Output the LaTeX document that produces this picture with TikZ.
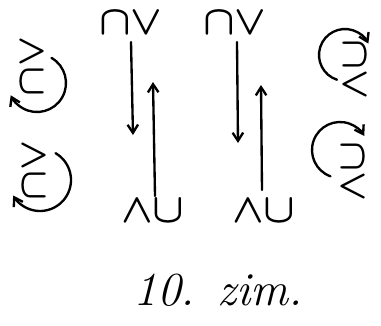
\documentclass[tikz,border=0pt]{standalone}
\usepackage{amsmath}
\usepackage{tikz}
\usetikzlibrary{arrows.meta, positioning}
\tikzset{
  sym/.style   = {inner sep=0pt, font=\huge\boldmath, scale=1.7, transform shape},
  symccw/.style= {sym, rotate=90, scale=0.95},
  symcw/.style = {sym, rotate=-90, scale=0.95},
  arr/.style   = {-{Straight Barb[length=7pt, width=9pt]}, line width=2pt,
                  line cap=round},
  spin/.style  = {-{Straight Barb[length=7pt, width=9pt]}, line width=2pt,
                  line cap=round},
  captxt/.style= {font=\huge\itshape, scale=1.95, transform shape, inner sep=0pt},
}

\begin{document}
\begin{tikzpicture}[x=0.03cm, y=-0.03cm]
  \useasboundingbox (0,0) rectangle (381,325);

  % symbol pairs, top and bottom
  \node[sym] (topA) at (131,23) {$\cap\vee$};
  \node[sym] (topB) at (235,23) {$\cap\vee$};
  \node[sym] (botA) at (153,211) {$\wedge\cup$};
  \node[sym] (botB) at (264,211) {$\wedge\cup$};

  % arrow ends
  \coordinate (dnAs) at (131,42);
  \coordinate (dnAe) at (133,135);
  \coordinate (upAs) at (155,196);
  \coordinate (upAe) at (153,82);
  \coordinate (dnBs) at (237,42);
  \coordinate (dnBe) at (238,143);
  \coordinate (upBs) at (262,190);
  \coordinate (upBe) at (261,85);

  \draw[arr] (dnAs) -- (dnAe);
  \draw[arr] (upAs) -- (upAe);
  \draw[arr] (dnBs) -- (dnBe);
  \draw[arr] (upBs) -- (upBe);

  % turned pairs in circles
  \node[symccw] (lftA) at (33,66)  {$\cap\vee$};
  \node[symccw] (lftB) at (35,170) {$\cap\vee$};
  \node[symcw]  (rgtA) at (354,70)  {$\cap\vee$};
  \node[symcw]  (rgtB) at (352,172) {$\cap\vee$};

  \draw[spin] (37,83)  ++(-60:29) arc[start angle=-60, end angle=155, radius=29];
  \draw[spin] (40,180) ++(-60:31) arc[start angle=-60, end angle=150, radius=31];
  \draw[spin] (345,55) ++(108:26) arc[start angle=108, end angle=334, radius=26];
  \draw[spin] (340,150) ++(110:28) arc[start angle=110, end angle=330, radius=28];

  % caption
  \node[captxt] (title) at (218,290) {10. zim.};
\end{tikzpicture}
\end{document}
